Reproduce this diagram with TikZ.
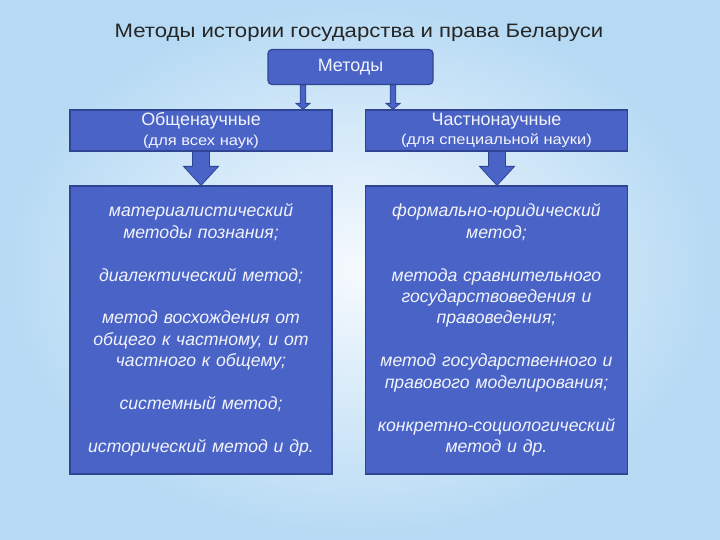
\documentclass[tikz,border=0pt]{standalone}
\usepackage{fontspec}
\setmainfont{Liberation Sans}
\newfontfamily\widesans[FakeStretch=1.14]{Liberation Sans}
\usetikzlibrary{calc}
\definecolor{bgblue}{HTML}{B6DAF4}
\definecolor{bglight}{HTML}{F6FAFE}
\definecolor{boxfill}{HTML}{4A63C6}
\definecolor{boxedge}{HTML}{2F4592}
\definecolor{titlegray}{HTML}{262626}
\definecolor{boxtext}{HTML}{F2F4FB}

\begin{document}
\begin{tikzpicture}[x=1bp, y=-1bp,
  methbox/.style={draw=boxedge, fill=boxfill, line width=1.2bp, text=boxtext, inner sep=0pt, align=center},
  listbox/.style={methbox, minimum width=262bp, minimum height=288bp, text width=256bp,
    font=\fontsize{17.7}{21.5}\selectfont\itshape},
  blockarrow/.style={draw=boxedge, fill=boxfill, line width=0.8bp, line join=miter}]
  \useasboundingbox (0,0) rectangle (720,540);
  \shade[inner color=bglight, outer color=bgblue] (0,0) rectangle (720,540);

  \node[font=\widesans\fontsize{19.5}{22}\selectfont, text=titlegray] (title) at (359,33) {Методы истории государства и права Беларуси};
  \node[methbox, rounded corners=4bp, minimum width=165bp, minimum height=35bp,
    font=\fontsize{18}{20}\selectfont] (m) at (350.5,67) {Методы};

  \foreach \n/\x/\main/\aside in {oh/201/Общенаучные/{(для всех наук)}, ch/496.5/Частнонаучные/{(для специальной науки)}}
    \node[methbox, minimum width=262bp, minimum height=41bp] (\n) at (\x,130.5)
      {{\fontsize{18}{20}\selectfont\main}\\[4bp]{\widesans\fontsize{14.5}{16}\selectfont\aside}};

  \node[listbox] (ob) at (201,330) {материалистический\\ методы познания;\\[21.5bp]
    диалектический метод;\\[21.5bp]
    метод восхождения от\\ общего к частному, и от\\ частного к общему;\\[21.5bp]
    системный метод;\\[21.5bp]
    исторический метод и др.};
  \node[listbox] (cb) at (496.5,330) {формально-юридический\\ метод;\\[21.5bp]
    метода сравнительного\\ государствоведения и\\ правоведения;\\[21.5bp]
    метод государственного и\\ правового моделирования;\\[21.5bp]
    конкретно-социологический\\ метод и др.};

  \foreach \a/\b/\x/\s/\w/\h in {m/oh/303/2.8/7/6, m/ch/393/2.8/7/6, oh/ob/201/8.5/17.5/19, ch/cb/497/8.5/17.5/19}
    \draw[blockarrow] (\x-\s,0 |- \a.south) -- ($(\x-\s,0 |- \b.north)+(0,-\h)$)
      -- ($(\x-\w,0 |- \b.north)+(0,-\h)$) -- (\x,0 |- \b.north)
      -- ($(\x+\w,0 |- \b.north)+(0,-\h)$) -- ($(\x+\s,0 |- \b.north)+(0,-\h)$)
      -- (\x+\s,0 |- \a.south) -- cycle;
\end{tikzpicture}
\end{document}
